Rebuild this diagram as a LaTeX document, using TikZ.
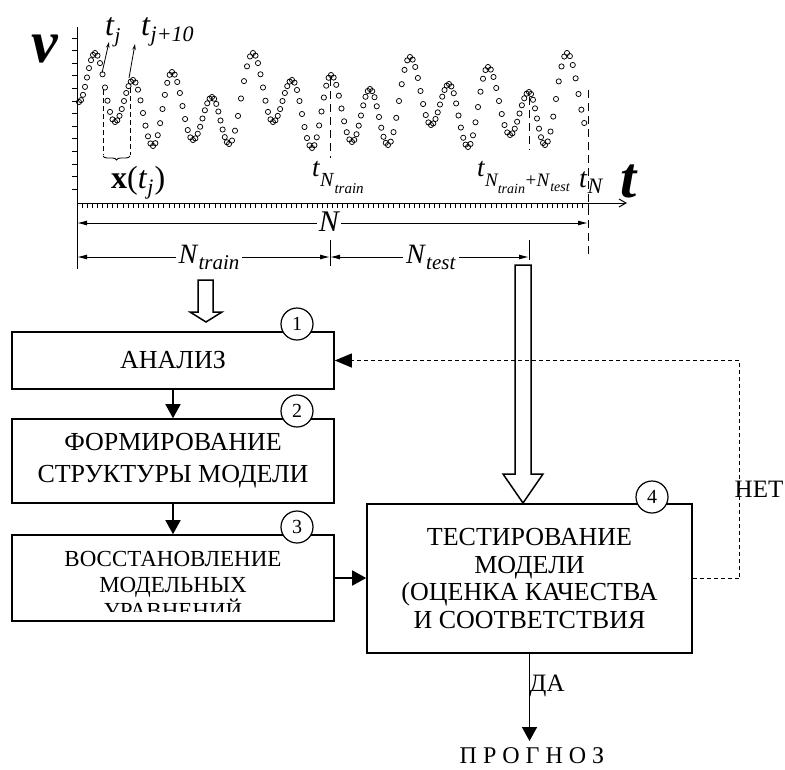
\documentclass[tikz,border=0pt]{standalone}
\usepackage{fontspec}
\setmainfont{Liberation Serif}
\usetikzlibrary{arrows.meta,decorations.pathreplacing}
\newcommand\fsz[2]{\fontsize{#1}{#2}\selectfont}
\begin{document}
\begin{tikzpicture}[x=1pt,y=-1pt,
  box/.style={draw, line width=1.6pt, fill=white, inner sep=0pt, align=center},
  numc/.style={circle, draw, line width=1.2pt, fill=white, minimum size=32pt, inner sep=0pt, font=\fsz{20}{20}},
  conn/.style={line width=1.6pt, -{Triangle[length=14pt,width=15pt]}},
  fb/.style={line width=1pt, dash pattern=on 4pt off 3pt, -{Triangle[length=17pt,width=14pt]}},
  dotc/.style={line width=0.75pt},
  dimln/.style={line width=1pt, {Latex[length=10pt,width=5pt]}-{Latex[length=10pt,width=5pt]}},
  vdash/.style={line width=1pt, dash pattern=on 8pt off 5pt},
  hollow/.style={draw, line width=1.5pt, fill=white, line join=miter},
  lbl/.style={inner sep=0pt, anchor=base west},
  wlbl/.style={fill=white, inner sep=2pt}
]
\useasboundingbox (0,0) rectangle (785,769);

% ---------- signal dots ----------
\foreach \xa/\ya/\xb/\yb in {79/102/95/53, 95/53/115/122, 115/122/133/80, 133/80/153/146,
  153/146/172/72, 172/72/193/140, 193/140/212/97, 212/97/229/144, 229/144/253/53,
  253/53/273/122, 273/122/292/80, 292/80/312/148, 312/148/331/75, 331/75/352/142,
  352/142/370/89, 370/89/388/145, 388/145/410/57, 410/57/431/125, 431/125/449/84,
  449/84/468/147, 468/147/488/67, 488/67/510/135, 510/135/529/92, 529/92/545/145,
  545/145/567/53}{
  \foreach \k in {0,...,7}{
    \pgfmathsetmacro\px{\xa+(\xb-\xa)*\k/8}
    \pgfmathsetmacro\py{\ya+(\yb-\ya)*(1-cos(180*\k/8))/2}
    \draw[dotc] (\px,\py) circle[radius=2.6pt];
  }
}
\foreach \k in {0,...,6}{
  \pgfmathsetmacro\px{567+23*\k/8}
  \pgfmathsetmacro\py{53+82*(1-cos(180*\k/8))/2}
  \draw[dotc] (\px,\py) circle[radius=2.6pt];
}

% ---------- axes ----------
\coordinate (yax0) at (77,27);
\coordinate (yax1) at (77,269);
\draw[line width=1pt] (yax0) -- (yax1);
\foreach \i in {0,...,12}{
  \draw[line width=1pt] (72,38+12.6*\i) -- (77,38+12.6*\i);
}
\coordinate (tax0) at (77,203);
\coordinate (tax1) at (627,203);
\draw[line width=1pt, -{Straight Barb[length=7pt,width=8pt]}] (tax0) -- (tax1);
\foreach \i in {0,...,100}{
  \draw[line width=0.8pt] (77+5.11*\i,203) -- (77+5.11*\i,208);
}

% vertical markers
\draw[vdash] (330,78) -- (330,158);
\draw[vdash] (529,97) -- (529,150);
\draw[vdash] (588,90) -- (588,258);
\draw[line width=1pt] (330,240) -- (330,266);
\draw[line width=1pt] (529,240) -- (529,260);

% window bracket
\draw[line width=0.9pt, dash pattern=on 5pt off 3pt] (103,90) -- (103,155);
\draw[line width=0.9pt, dash pattern=on 5pt off 3pt] (130,88) -- (130,155);
\draw[line width=0.9pt, decorate, decoration={brace, mirror, amplitude=4pt}] (103,156) -- (130,156);
\draw[line width=0.8pt, -{Stealth[length=6pt,width=3.5pt]}] (102,73) -- (109,42);
\draw[line width=0.8pt, -{Stealth[length=6pt,width=3.5pt]}] (129,78) -- (135,44);

% dimension lines
\coordinate (n0) at (77,223);
\coordinate (n1) at (588,223);
\draw[dimln] (n0) -- (n1);
\node[wlbl, font=\fsz{30}{30}\itshape] (lN) at (329,222) {N};
\coordinate (tr0) at (77,257);
\coordinate (tr1) at (330,257);
\coordinate (te1) at (529,257);
\draw[dimln] (tr0) -- (tr1);
\draw[dimln] (tr1) -- (te1);
\node[wlbl, inner sep=3pt] (lNtr) at (209,257) {\fsz{28}{28}\textit{N}\raisebox{-6pt}{\fsz{21}{21}\textit{train}}};
\node[wlbl, inner sep=3pt] (lNte) at (431,257) {\fsz{28}{28}\textit{N}\raisebox{-6pt}{\fsz{21}{21}\textit{test}}};

% labels of graph
\node[lbl] (lv) at (31,62) {\fsz{60}{60}\bfseries\itshape v};
\node[lbl] (lT) at (620,197) {\fsz{58}{58}\bfseries\itshape t};
\node[lbl] (ltj) at (105,35) {\fsz{32}{32}\textit{t}\raisebox{-7pt}{\fsz{21}{21}\textit{j}}};
\node[lbl] (ltj10) at (141,35) {\fsz{32}{32}\textit{t}\raisebox{-6pt}{\fsz{22}{22}\textit{j+10}}};
\node[lbl] (lx) at (111,188) {\fsz{32}{32}\textbf{x}(\textit{t}\raisebox{-6pt}{\fsz{22}{22}\textit{j}}\kern1pt)};
\node[lbl] (ltNtr) at (312,176) {\fsz{27}{27}\textit{t}\raisebox{-10pt}{\fsz{20}{20}\textit{N}\raisebox{-7pt}{\fsz{15}{15}\textit{train}}}};
\node[lbl] (ltNtt) at (477,176) {\fsz{27}{27}\textit{t}\raisebox{-10pt}{\fsz{19}{19}\textit{N}\kern-1pt\raisebox{-7pt}{\fsz{14}{14}\textit{train}}\kern0.5pt+\kern0.5pt\textit{N}\raisebox{-5pt}{\fsz{14}{14}\textit{test}}}};
\node[lbl] (ltN) at (579,187) {\fsz{28}{28}\textit{t}\raisebox{-6pt}{\fsz{22}{22}\textit{N}}};

% ---------- hollow arrows ----------
\draw[hollow] (198,280) -- (213,280) -- (213,312) -- (222,312) -- (206,322) -- (190,312) -- (198,312) -- cycle;
\draw[hollow] (515,265) -- (531,265) -- (531,474) -- (543,474) -- (523,503) -- (503,474) -- (515,474) -- cycle;

% ---------- flowchart ----------
\node[box, minimum width=322pt, minimum height=57pt, font=\fsz{26}{32}] (b1) at (173,360.5) {АНАЛИЗ};
\node[box, minimum width=322pt, minimum height=84pt, font=\fsz{26}{32}] (b2) at (173,461) {ФОРМИРОВАНИЕ\\СТРУКТУРЫ МОДЕЛИ};
\node[box, minimum width=322pt, minimum height=86pt] (b3) at (173,578) {};
\begin{scope}
  \clip (14,537) rectangle (332,611);
  \node[align=center, font=\fsz{23}{26}, inner sep=0pt] (t3) at (173,585) {ВОССТАНОВЛЕНИЕ\\МОДЕЛЬНЫХ\\УРАВНЕНИЙ};
\end{scope}
\node[box, minimum width=325pt, minimum height=149pt, font=\fsz{26}{27.5}] (b4) at (529.5,578.5) {ТЕСТИРОВАНИЕ\\МОДЕЛИ\\(ОЦЕНКА КАЧЕСТВА\\И СООТВЕТСТВИЯ};

\node[numc] (c1) at (297,324) {1};
\node[numc] (c2) at (297,411) {2};
\node[numc] (c3) at (297,527) {3};
\node[numc] (c4) at (652,497) {4};

\draw[conn] (b1) -- (b2);
\draw[conn] (b2) -- (b3);
\draw[conn] (b3.east) -- (b3.east -| b4.west);
\draw[fb] (b4.east) -- ++(47,0) |- (b1.east);
\node[font=\fsz{25}{25}, inner sep=0pt] (net) at (759,489) {НЕТ};

\coordinate (dae) at (529.5,741);
\draw[conn] (b4.south) -- (dae);
\node[font=\fsz{25}{25}, inner sep=0pt] (da) at (547,686) {ДА};
\node[font=\fsz{24}{24}, inner sep=0pt] (prog) at (532,756) {П Р О Г Н О З};
\end{tikzpicture}
\end{document}
